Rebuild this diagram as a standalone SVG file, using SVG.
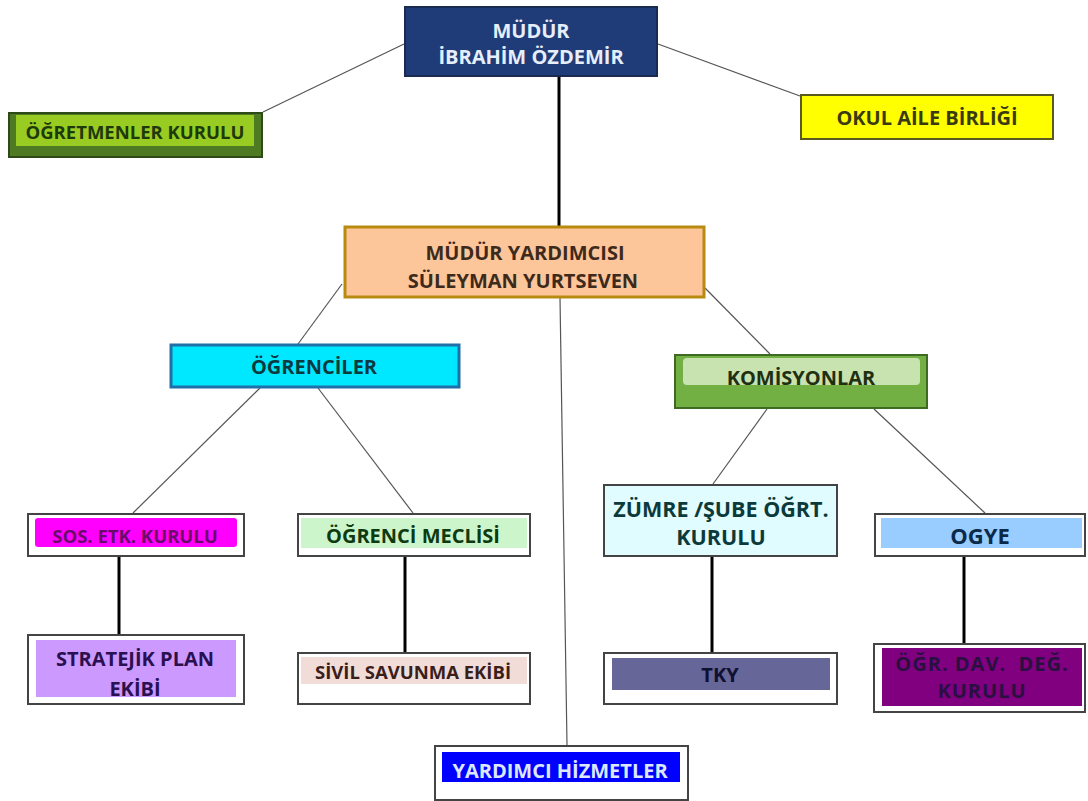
<svg xmlns="http://www.w3.org/2000/svg" width="1088" height="801" viewBox="0 0 1088 801">
<style>
text{font-family:"Open Sans","Liberation Sans",sans-serif;font-weight:bold;font-size:20px;text-anchor:middle;dominant-baseline:central}
.thin{stroke:#555;stroke-width:1.2;fill:none}
.thick{stroke:#000;stroke-width:3;fill:none}
.ob{fill:#fff;stroke:#444;stroke-width:2}
</style>
<rect width="1088" height="801" fill="#fff"/>
<g id="connectors">
<line class="thin" x1="404" y1="44" x2="263" y2="112"/>
<line class="thin" x1="658" y1="44" x2="800" y2="96"/>
<line class="thick" x1="559" y1="70" x2="559" y2="226"/>
<line class="thin" x1="342" y1="284" x2="298" y2="344"/>
<line class="thin" x1="705" y1="288" x2="770" y2="354"/>
<line class="thin" x1="560" y1="298" x2="567" y2="745"/>
<line class="thin" x1="260" y1="388" x2="133" y2="513"/>
<line class="thin" x1="318" y1="388" x2="413" y2="513"/>
<line class="thin" x1="767" y1="409" x2="713" y2="484"/>
<line class="thin" x1="874" y1="409" x2="985" y2="513"/>
<line class="thick" x1="119" y1="556" x2="119" y2="634"/>
<line class="thick" x1="405" y1="556" x2="405" y2="652"/>
<line class="thick" x1="712" y1="556" x2="712" y2="652"/>
<line class="thick" x1="964" y1="556" x2="964" y2="643"/>
</g>
<g id="mudur">
<rect x="405" y="7" width="252" height="69" fill="#1f3c78" stroke="#1a2a50" stroke-width="2"/>
<text x="531" y="30" fill="#e6eefa">MÜDÜR</text>
<text x="531" y="56" fill="#e6eefa">İBRAHİM ÖZDEMİR</text>
</g>
<g id="ogretmenler">
<rect x="9" y="113" width="253" height="44" fill="#4e7a24" stroke="#2e4a18" stroke-width="2"/>
<rect x="16" y="115" width="238" height="31" fill="#99cc22"/>
<text x="135" y="131" fill="#1e3a0a" style="font-size:18.5px">ÖĞRETMENLER KURULU</text>
</g>
<g id="okulaile">
<rect x="801" y="95" width="252" height="44" fill="#ffff00" stroke="#5a5a20" stroke-width="2"/>
<text x="927" y="117" fill="#3a3a10">OKUL AİLE BİRLİĞİ</text>
</g>
<g id="yardimci">
<rect x="345" y="227" width="359" height="70" fill="#fcc59a" stroke="#b88a10" stroke-width="3"/>
<text x="525" y="252" fill="#3e2a1a">MÜDÜR YARDIMCISI</text>
<text x="523" y="280" fill="#3e2a1a">SÜLEYMAN YURTSEVEN</text>
</g>
<g id="ogrenciler">
<rect x="171" y="345" width="288" height="42" fill="#00e8ff" stroke="#1f6fa8" stroke-width="3"/>
<text x="314" y="366" fill="#0a3a40">ÖĞRENCİLER</text>
</g>
<g id="komisyonlar">
<rect x="675" y="355" width="252" height="53" fill="#72b043" stroke="#3f6a22" stroke-width="2"/>
<rect x="683" y="358" width="237" height="27" rx="4" fill="#c8e2b0"/>
<text x="801" y="377" fill="#1e3010">KOMİSYONLAR</text>
</g>
<g id="sosetk">
<rect class="ob" x="28" y="514" width="216" height="42"/>
<rect x="35" y="518" width="202" height="29" rx="3" fill="#ff00ff"/>
<text x="135" y="535" fill="#6a0a6a" style="font-size:18.5px">SOS. ETK. KURULU</text>
</g>
<g id="meclis">
<rect class="ob" x="298" y="514" width="232" height="42"/>
<rect x="301" y="518" width="226" height="30" fill="#ccf5cc"/>
<text x="413" y="535" fill="#0e3a10">ÖĞRENCİ MECLİSİ</text>
</g>
<g id="zumre">
<rect x="604" y="485" width="233" height="71" fill="#e0fcff" stroke="#444" stroke-width="2"/>
<text x="721" y="508" fill="#0c3a3a" style="font-size:21.5px">ZÜMRE /ŞUBE ÖĞRT.</text>
<text x="721" y="536" fill="#0c3a3a" style="font-size:21.5px">KURULU</text>
</g>
<g id="ogye">
<rect class="ob" x="875" y="514" width="210" height="42"/>
<rect x="881" y="518" width="201" height="30" fill="#99ccff"/>
<text x="980" y="535" fill="#0a2a48" style="font-size:22px">OGYE</text>
</g>
<g id="stratejik">
<rect class="ob" x="28" y="635" width="216" height="69"/>
<rect x="36" y="640" width="200" height="57" fill="#cc99ff"/>
<text x="135" y="658" fill="#2a1050">STRATEJİK PLAN</text>
<text x="135" y="688" fill="#2a1050">EKİBİ</text>
</g>
<g id="sivil">
<rect class="ob" x="298" y="653" width="232" height="51"/>
<rect x="301" y="657" width="226" height="27" fill="#f2dcd8"/>
<text x="413" y="671" fill="#3a1e1a" style="font-size:18.5px">SİVİL SAVUNMA EKİBİ</text>
</g>
<g id="tky">
<rect class="ob" x="604" y="653" width="233" height="51"/>
<rect x="612" y="658" width="218" height="32" fill="#666699"/>
<text x="720" y="674" fill="#101030">TKY</text>
</g>
<g id="ogrdav">
<rect class="ob" x="874" y="644" width="211" height="68"/>
<rect x="882" y="648" width="200" height="58" fill="#800080"/>
<text x="982" y="663" fill="#2a1040" style="letter-spacing:1px;white-space:pre">ÖĞR. DAV.  DEĞ.</text>
<text x="982" y="690" fill="#2a1040" style="letter-spacing:1px">KURULU</text>
</g>
<g id="hizmetler">
<rect class="ob" x="435" y="746" width="253" height="54"/>
<rect x="442" y="752" width="238" height="30" fill="#0000ff"/>
<text x="560" y="770" fill="#dde8ff">YARDIMCI HİZMETLER</text>
</g>
</svg>
